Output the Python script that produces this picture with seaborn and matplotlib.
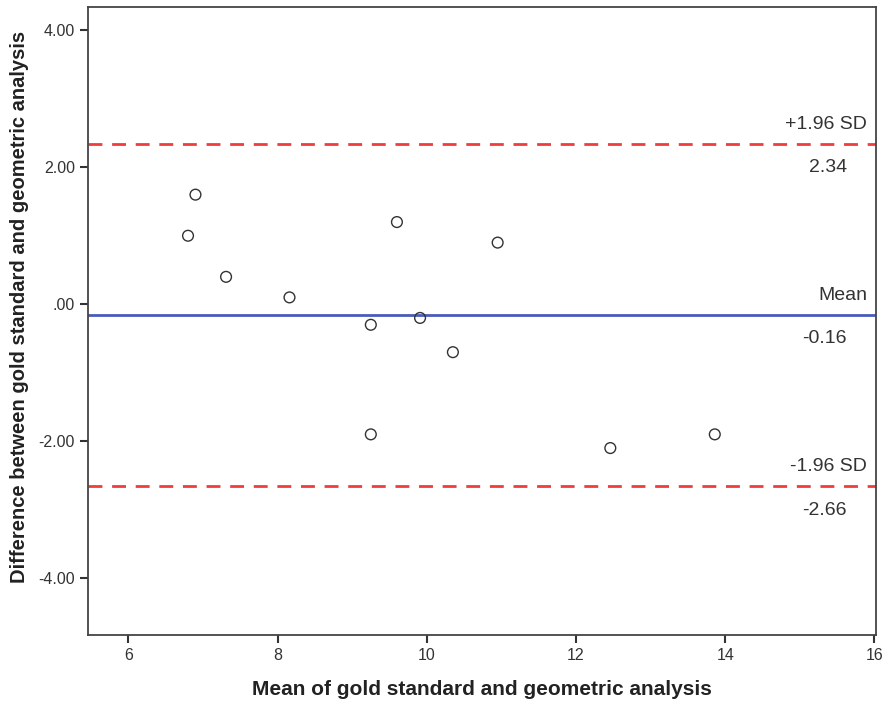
import matplotlib
matplotlib.use("Agg")
import matplotlib.pyplot as plt
import seaborn as sns
import pandas as pd

# Bland-Altman data
mean_vals = [6.80, 6.90, 7.31, 8.16, 9.25, 9.25, 9.60, 9.91, 10.35, 10.95, 12.46, 13.86]
diff_vals = [1.00, 1.60, 0.40, 0.10, -0.30, -1.90, 1.20, -0.20, -0.70, 0.90, -2.10, -1.90]

bias = -0.16
upper = 2.34
lower = -2.66

x_ticks = [6, 8, 10, 12, 14, 16]
y_ticks = [4, 2, 0, -2, -4]
y_tick_labels = ["4.00", "2.00", ".00", "-2.00", "-4.00"]

df = pd.DataFrame({"mean": mean_vals, "diff": diff_vals})

sns.set_style("white")
plt.rcParams['font.family'] = ['Liberation Sans', 'DejaVu Sans']

fig = plt.figure(figsize=(8.83, 7.07), dpi=100)
ax = fig.add_axes([0.0997, 0.1018, 0.8923, 0.8883])

sns.scatterplot(data=df, x="mean", y="diff", ax=ax, s=60,
                facecolor="none", edgecolor="#333333", linewidth=1.0, zorder=3)

ax.axhline(upper, color="#f03c3c", linestyle=(0, (5, 3.5)), linewidth=2)
ax.axhline(lower, color="#f03c3c", linestyle=(0, (5, 3.5)), linewidth=2)
ax.axhline(bias, color="#4a5cb8", linewidth=2)

ax.set_xlim(5.46, 16.02)
ax.set_ylim(-4.83, 4.34)
ax.set_xticks(x_ticks)
ax.set_yticks(y_ticks)
ax.set_yticklabels(y_tick_labels)
ax.tick_params(axis="both", direction="out", length=6, width=1.5, color="#333333",
               labelsize=11.5, labelcolor="#333333", left=True, bottom=True)

for sp in ax.spines.values():
    sp.set_color("#444444")
    sp.set_linewidth(1.3)

ax.set_xlabel("Mean of gold standard and geometric analysis", fontsize=15,
              fontweight="bold", labelpad=12, color="#222222")
ax.set_ylabel("Difference between gold standard and geometric analysis", fontsize=14.5,
              fontweight="bold", labelpad=6.5, color="#222222")
ax.yaxis.label.set_y(0.522)

# labels next to the reference lines
for val, name in [(upper, "+1.96 SD"), (bias, "Mean"), (lower, "-1.96 SD")]:
    ax.annotate(name, xy=(1, val), xycoords=("axes fraction", "data"),
                xytext=(-6.5, 8), textcoords="offset points", ha="right", va="bottom",
                fontsize=14, color="#333333")
    ax.annotate(f"{val:.2f}", xy=(1, val), xycoords=("axes fraction", "data"),
                xytext=(-21, -11), textcoords="offset points", ha="right", va="top",
                fontsize=14, color="#333333")

fig.savefig("out.png", dpi=100)
